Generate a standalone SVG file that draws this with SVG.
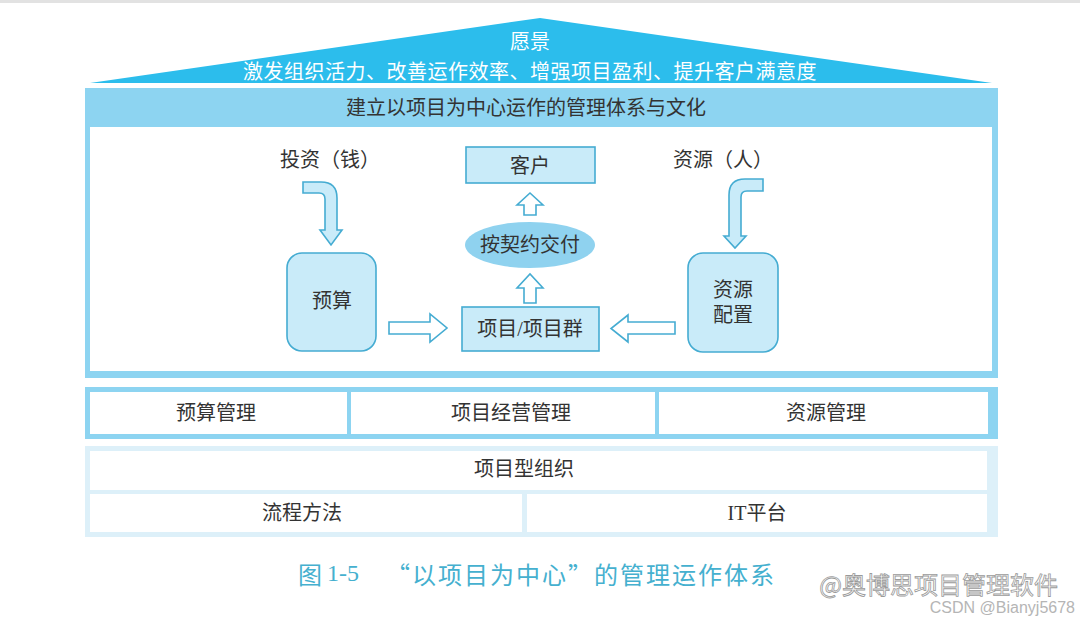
<svg xmlns="http://www.w3.org/2000/svg" width="1080" height="625" viewBox="0 0 1080 625">
<style>
.t{font-family:"Liberation Serif","Noto Sans CJK SC",serif;font-size:20px;fill:#333;text-anchor:middle;dominant-baseline:central}
.w{font-family:"Noto Sans CJK SC",sans-serif;font-size:20px;fill:#fff;text-anchor:middle;dominant-baseline:central}
.box{fill:#c9ebf9;stroke:#45acd2;stroke-width:1.6}
.arr{fill:#fff;stroke:#45acd2;stroke-width:1.6;stroke-linejoin:miter}
.barr{fill:#c9ebf9;stroke:#45acd2;stroke-width:1.6}
.cell{fill:#fff}
.cap{font-family:"Noto Sans CJK SC",serif;font-size:24px;fill:#45b0cf;dominant-baseline:central}
</style>
<rect x="0" y="0" width="1080" height="625" fill="#fff"/>
<rect x="0" y="0" width="1080" height="3" fill="#e2e2e2"/>

<g id="roof">
<polygon points="540,18 992,83 90,83" fill="#2cbdec"/>
<text class="w" x="530" y="40">愿景</text>
<text class="w" x="530" y="70" letter-spacing="0.5">激发组织活力、改善运作效率、增强项目盈利、提升客户满意度</text>
</g>

<g id="main-frame">
<rect x="85" y="88" width="913" height="290" fill="#8dd4f1"/>
<rect x="90" y="127" width="902" height="244" fill="#fff"/>
<text class="t" x="526" y="108">建立以项目为中心运作的管理体系与文化</text>
</g>

<g id="invest">
<text class="t" x="330" y="160">投资（钱）</text>
</g>
<g id="budget">
<rect class="box" x="287" y="253" width="89" height="98" rx="15"/>
<text class="t" x="332" y="301">预算</text>
</g>
<g id="resource">
<text class="t" x="723" y="160">资源（人）</text>
</g>
<g id="allocation">
<rect class="box" x="688" y="253" width="90" height="99" rx="15"/>
<text class="t" x="733" y="290">资源</text>
<text class="t" x="733" y="315">配置</text>
</g>
<g id="customer">
<rect class="box" x="466" y="147" width="129" height="36"/>
<text class="t" x="530" y="166">客户</text>
</g>
<g id="delivery">
<ellipse cx="530" cy="245" rx="65" ry="23" fill="#8fd2ef"/>
<text class="t" x="530" y="245">按契约交付</text>
</g>
<g id="project">
<rect class="box" x="462" y="307" width="137" height="44"/>
<text class="t" x="530" y="329">项目/项目群</text>
</g>

<g id="connectors">
<path class="barr" d="M303,182 H321 Q337,182 337,198 V230 H342 L331,245 L320,230 H325 V199 Q325,193 319,193 H303 Z"/>
<path class="barr" d="M763,179 H745 Q729,179 729,195 V236 H724 L735,248 L746,236 H741 V197 Q741,191 747,191 H763 Z"/>
<path class="arr" d="M389,322 H430 V314 L447,328 L430,342 V334 H389 Z"/>
<path class="arr" d="M675,322 H628 V315 L611,328.5 L628,342 V334 H675 Z"/>
<path class="arr" d="M524,215 V205 H517 L530,193 L543,205 H536 V215 Z"/>
<path class="arr" d="M524,303 V288 H517 L530,274 L543,288 H536 V303 Z"/>
</g>

<g id="mgmt-row">
<rect x="85" y="387" width="913" height="52" fill="#8dd4f1"/>
<rect class="cell" x="90" y="392" width="257" height="42"/>
<rect class="cell" x="351" y="392" width="304" height="42"/>
<rect class="cell" x="659" y="392" width="329" height="42"/>
<text class="t" x="216" y="413">预算管理</text>
<text class="t" x="511" y="413">项目经营管理</text>
<text class="t" x="826" y="413">资源管理</text>
</g>

<g id="base-rows">
<rect x="85" y="446" width="913" height="91" fill="#ddf0f9"/>
<rect class="cell" x="90" y="451" width="897" height="39"/>
<rect class="cell" x="90" y="494" width="432" height="38"/>
<rect class="cell" x="527" y="494" width="460" height="38"/>
<text class="t" x="524" y="469">项目型组织</text>
<text class="t" x="302" y="513">流程方法</text>
<text class="t" x="757" y="513">IT平台</text>
</g>

<g id="caption">
<text class="cap" y="573"><tspan x="298">图</tspan><tspan x="327" font-family="Liberation Serif,serif">1-5</tspan><tspan x="386" letter-spacing="2">“以项目为中心”的管理运作体系</tspan></text>
<text x="1058" y="583" text-anchor="end" font-family="Noto Sans CJK SC,sans-serif" font-size="24" fill="#fff" stroke="#9a9a9a" stroke-width="0.8" dominant-baseline="central">@奥博思项目管理软件</text>
<text x="1075" y="607" text-anchor="end" font-family="Liberation Sans,Arial,sans-serif" font-size="16" fill="#b5b5b5" dominant-baseline="central">CSDN @Bianyj5678</text>
</g>
</svg>
